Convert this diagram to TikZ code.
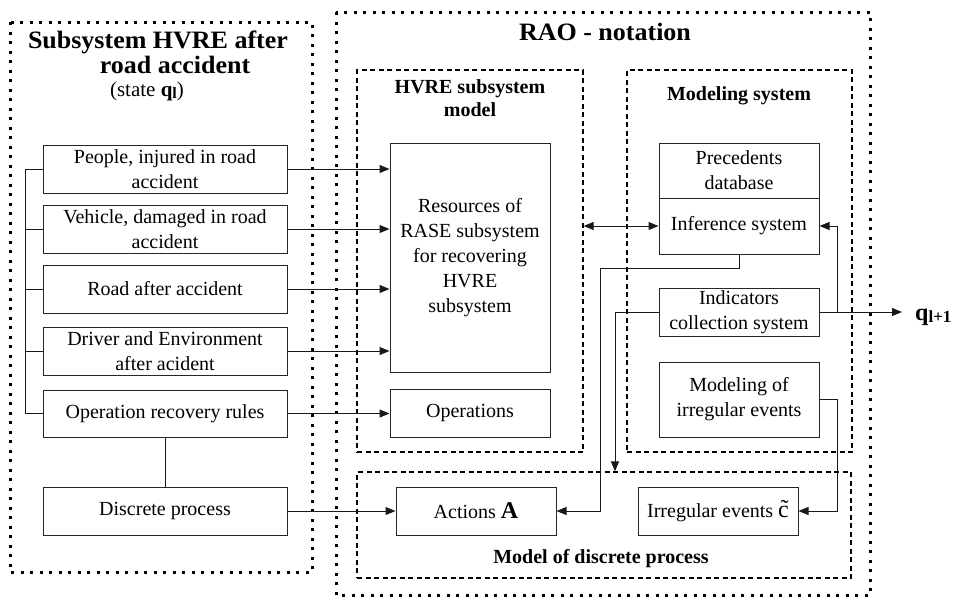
\documentclass[tikz,border=0pt]{standalone}
\usepackage{fontspec}
\setmainfont{Liberation Serif}
\usetikzlibrary{arrows.meta}
\begin{document}
\begin{tikzpicture}[x=1pt,y=-1pt,
  conn/.style={draw=black!90, line width=1pt},
  arr/.style={conn, -{Triangle[length=10pt,width=8pt]}},
  darr/.style={conn, {Triangle[length=10pt,width=8pt]}-{Triangle[length=10pt,width=8pt]}},
  boxbase/.style={draw=black!85, line width=1pt, inner sep=0pt, align=center, font=\fontsize{20}{25}\selectfont},
  lbox/.style={boxbase, minimum width=244, minimum height=48},
  mbox/.style={boxbase, minimum width=160},
  dashbox/.style={draw=black, line width=1.3pt, dash pattern=on 5pt off 3.5pt, inner sep=0pt},
  dotbox/.style={draw=black, line width=3pt, dash pattern=on 3pt off 6.5pt},
  ttl/.style={inner sep=0pt, font=\fontsize{25}{25}\selectfont\bfseries},
  subttl/.style={inner sep=0pt, font=\fontsize{20}{20}\selectfont\bfseries}
]
\useasboundingbox (0,0) rectangle (958,597);

% frames
\draw[dotbox] (10,22) rectangle (312,572);
\draw[dotbox] (336,12) rectangle (870,595);
\node[dashbox, minimum width=226, minimum height=382] (hvre) at (470,261) {};
\node[dashbox, minimum width=225, minimum height=382] (msys) at (739.5,261) {};
\node[dashbox, minimum width=494, minimum height=106] (mdp) at (604,525) {};

% titles
\node[ttl, anchor=base, xscale=1.04] (t1) at (158,48) {Subsystem HVRE after};
\node[ttl, anchor=base, xscale=1.04] (t2) at (175,73) {road accident};
\node[inner sep=0pt, anchor=base, font=\fontsize{21}{21}\selectfont] (t3) at (147,96) {(state \textbf{q}\raisebox{-2pt}{\fontsize{16}{16}\selectfont\bfseries l})};
\node[ttl, anchor=base, xscale=1.04] (rao) at (605,40) {RAO - notation};
\node[subttl, anchor=base] (h1) at (470,93) {HVRE subsystem};
\node[subttl, anchor=base] (h2) at (470,116) {model};
\node[subttl, anchor=base] (ms) at (739,100) {Modeling system};
\node[subttl, anchor=base] (mdpl) at (601,563) {Model of discrete process};
\node[inner sep=0pt, anchor=base west] (q) at (915,320) {\fontsize{24}{24}\selectfont\bfseries q\raisebox{-2pt}{\fontsize{17}{17}\selectfont\bfseries l+1}};

% left boxes
\node[lbox] (p1) at (165,169) {People, injured in road\\accident};
\node[lbox] (p2) at (165,229) {Vehicle, damaged in road\\accident};
\node[lbox] (p3) at (165,289) {Road after accident};
\node[lbox] (p4) at (165,351) {Driver and Environment\\after acident};
\node[lbox, minimum height=47] (p5) at (165,413.5) {Operation recovery rules};
\node[lbox] (p6) at (165,511) {Discrete process};

% middle / right boxes
\node[mbox, minimum height=229] (res) at (470,257.5) {Resources of\\RASE subsystem\\for recovering\\HVRE\\subsystem};
\node[mbox, minimum height=48] (ops) at (470,413) {Operations};
\node[mbox, minimum height=55] (prec) at (739,170.5) {Precedents\\database};
\node[mbox, minimum height=56] (inf) at (739,226) {Inference system};
\node[mbox, minimum height=48] (ind) at (739,312) {Indicators\\collection system};
\node[mbox, minimum height=75] (mie) at (739,399.5) {Modeling of\\irregular events};
\node[mbox, minimum height=48] (act) at (476,511) {Actions {\fontsize{24}{24}\selectfont\bfseries A}};
\node[mbox, minimum height=48] (irr) at (718,511) {Irregular events {\fontsize{24}{24}\selectfont\~{c}}};

% connectors
\coordinate (bx) at (25,0);
\draw[conn] (p1.west) -- (p1.west -| bx) -- (p5.west -| bx) -- (p5.west);
\foreach \n in {p2,p3,p4} \draw[conn] (\n.west) -- (\n.west -| bx);
\draw[conn] (p5.south) -- (p6.north);

\draw[arr] (p1.east) -- (p1.east -| res.west);
\draw[arr] (p2.east) -- (p2.east -| res.west);
\draw[arr] (p3.east) -- (p3.east -| res.west);
\draw[arr] (p4.east) -- (p4.east -| res.west);
\draw[arr] (p5.east) -- (p5.east -| ops.west);
\draw[arr] (p6.east) -- (act.west);

\draw[darr] (inf.west -| hvre.east) -- (inf.west);
\coordinate (c1) at (600,268);
\draw[arr] (inf.south) |- (c1) |- (act.east);
\coordinate (c2) at (615,0);
\draw[arr] (ind.west) -| (c2 |- mdp.north);
\coordinate (c3) at (837,0);
\draw[arr] (ind.east) -- ([xshift=-13pt]q.west |- ind.east);
\draw[arr] (ind.east -| c3) |- (inf.east);
\draw[arr] (mie.east) -| (c3 |- irr.east) -- (irr.east);
\end{tikzpicture}
\end{document}
